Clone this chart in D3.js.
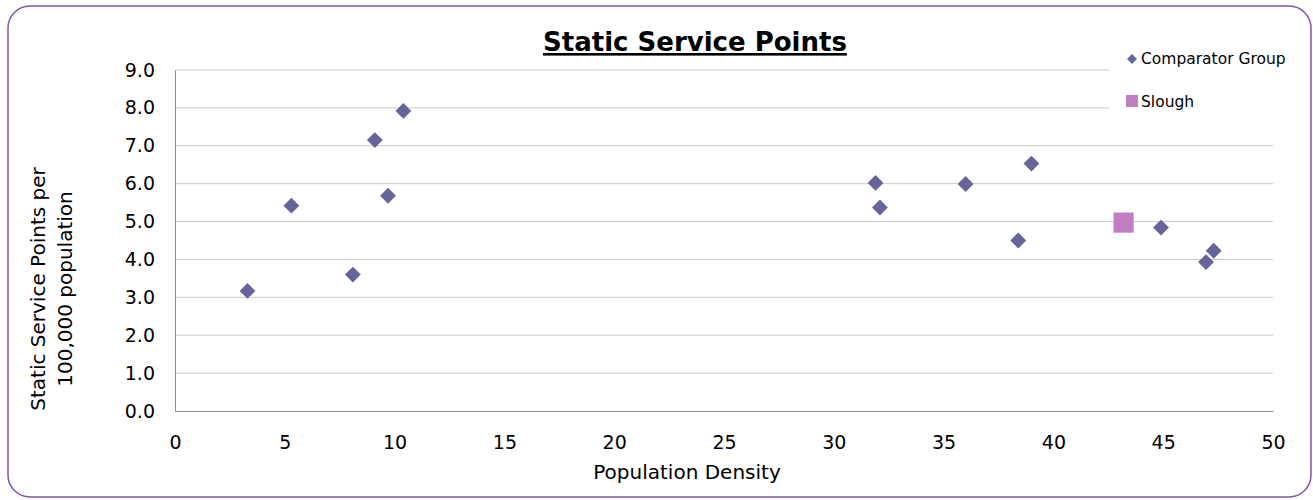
<!DOCTYPE html>
<html><head><meta charset="utf-8">
<script src="https://cdn.jsdelivr.net/npm/d3@7"></script>
<style>body{margin:0;background:#fff;}svg{display:block;}text{font-family:"DejaVu Sans",Verdana,sans-serif;}</style>
</head><body><svg id="c" width="1313" height="500"></svg>
<script>
const comparatorX = [3.3, 5.3, 8.1, 9.1, 9.7, 10.4, 31.9, 32.1, 36.0, 38.4, 39.0, 44.9, 46.95, 47.3];
const comparatorY = [3.17, 5.42, 3.6, 7.15, 5.68, 7.92, 6.02, 5.37, 5.99, 4.5, 6.53, 4.84, 3.93, 4.23];
const sloughX = [43.2];
const sloughY = [4.97];
const xTicks = [0,5,10,15,20,25,30,35,40,45,50];
const yTicks = [0,1,2,3,4,5,6,7,8,9];

const svg = d3.select("#c");
svg.append("rect").attr("x",8).attr("y",6).attr("width",1303).attr("height",491).attr("rx",22).attr("ry",22)
  .attr("fill","#fff").attr("stroke","#7E57A5").attr("stroke-width",1.5);

const x = d3.scaleLinear().domain([0,50]).range([175,1273]);
const y = d3.scaleLinear().domain([0,9]).range([411,70]);

// gridlines
svg.append("g").selectAll("line").data(yTicks.filter(d=>d>0)).join("line")
  .attr("x1",x(0)).attr("x2",x(50)).attr("y1",d=>y(d)).attr("y2",d=>y(d))
  .attr("stroke","#c8c8c8").attr("stroke-width",1);

// axes
const xAxis = svg.append("g").attr("transform",`translate(0,${y(0)})`)
  .call(d3.axisBottom(x).tickValues(xTicks).tickSize(0).tickPadding(25).tickFormat(d3.format("d")));
xAxis.select(".domain").attr("stroke","#8c8c8c");
xAxis.selectAll("text").attr("font-size",19).attr("fill","#000").attr("font-family","DejaVu Sans");
const yAxis = svg.append("g").attr("transform",`translate(${x(0)},0)`)
  .call(d3.axisLeft(y).tickValues(yTicks).tickSize(0).tickPadding(20).tickFormat(d3.format(".1f")));
yAxis.select(".domain").attr("stroke","#8c8c8c");
yAxis.selectAll("text").attr("font-size",19).attr("fill","#000").attr("font-family","DejaVu Sans");

// legend background
svg.append("rect").attr("x",1109).attr("y",38).attr("width",200).attr("height",84).attr("fill","#fff");

// points
const diamond = d3.symbol().type(d3.symbolDiamond2).size(160);
svg.append("g").selectAll("path").data(comparatorX.map((v,i)=>[v,comparatorY[i]])).join("path")
  .attr("d",diamond).attr("transform",d=>`translate(${x(d[0])},${y(d[1])})`)
  .attr("fill","#65659B");
svg.append("g").selectAll("rect").data(sloughX.map((v,i)=>[v,sloughY[i]])).join("rect")
  .attr("x",d=>x(d[0])-10).attr("y",d=>y(d[1])-10).attr("width",20).attr("height",20)
  .attr("fill","#C07FC0").attr("stroke","#d9a8d9").attr("stroke-width",0.5);

// title
svg.append("text").attr("x",695).attr("y",51).attr("text-anchor","middle").attr("font-size",26)
  .attr("font-weight","bold").attr("text-decoration","underline").text("Static Service Points");

// axis titles
svg.append("text").attr("x",687).attr("y",479).attr("text-anchor","middle").attr("font-size",20).text("Population Density");
const yt = svg.append("text").attr("transform","translate(45,289) rotate(-90)").attr("text-anchor","middle").attr("font-size",20);
yt.append("tspan").attr("x",0).attr("dy",0).text("Static Service Points per");
yt.append("tspan").attr("x",0).attr("dy",27).text("100,000 population");

// legend
const lg = svg.append("g");
lg.append("path").attr("d",d3.symbol().type(d3.symbolDiamond2).size(64)).attr("transform","translate(1132,59)").attr("fill","#65659B");
lg.append("text").attr("x",1141).attr("y",64).attr("font-size",15.5).text("Comparator Group");
lg.append("rect").attr("x",1126).attr("y",95).attr("width",12).attr("height",12).attr("fill","#C07FC0");
lg.append("text").attr("x",1141).attr("y",107).attr("font-size",15.5).text("Slough");
</script></body></html>
